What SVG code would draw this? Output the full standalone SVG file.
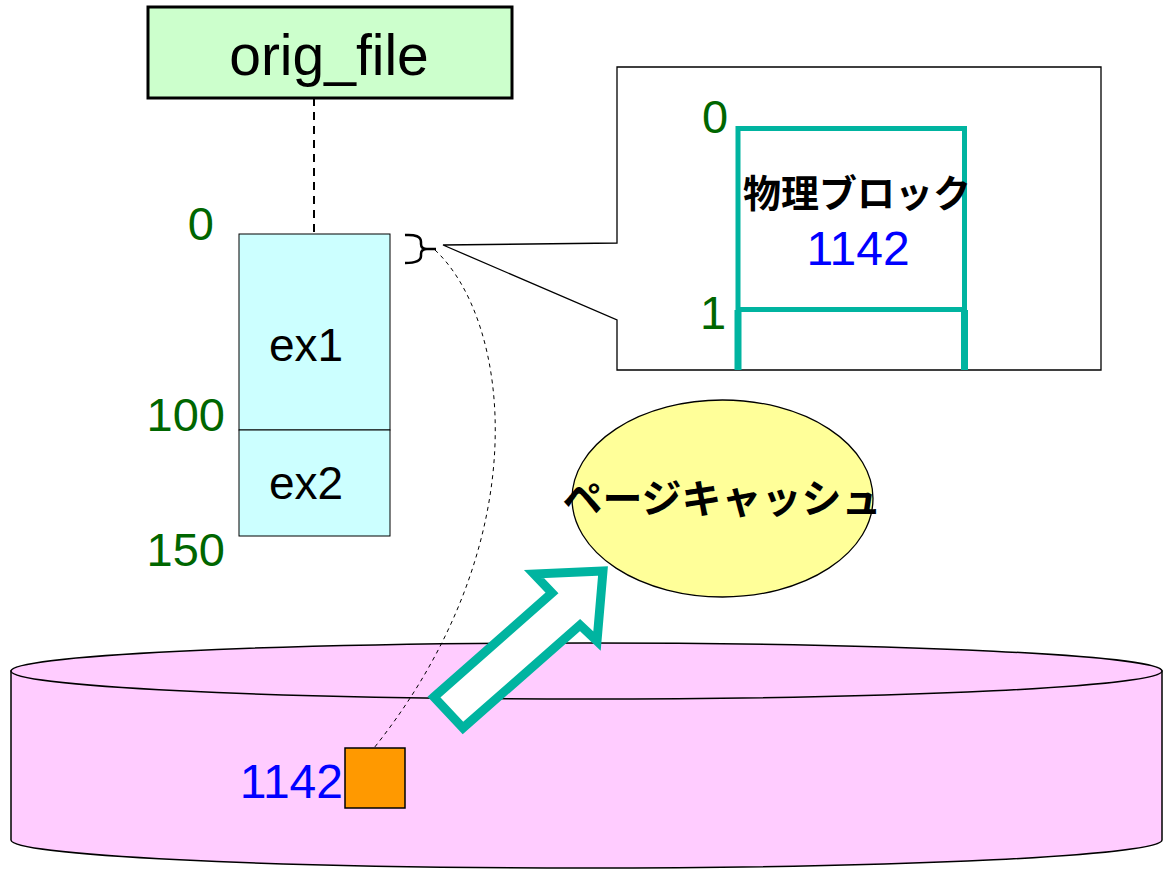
<svg xmlns="http://www.w3.org/2000/svg" width="1164" height="870" viewBox="0 0 1164 870">
  <style>
    .lat { font-family: "Liberation Sans", Arial, sans-serif; }
    .jp { font-family: "Noto Sans CJK JP", sans-serif; font-weight: bold; fill: #000; }
    .off { font-family: "Liberation Sans", Arial, sans-serif; font-size: 47px; fill: #006600; }
    .blk { font-family: "Liberation Sans", Arial, sans-serif; font-size: 48px; fill: #0000FF; }
    .edge { fill: none; stroke: #000; }
    .teal { fill: none; stroke: #00B4A0; }
  </style>

  <rect width="1164" height="870" fill="#FFFFFF"/>

  <!-- disk -->
  <g id="disk">
    <path d="M11,671 L11,840 A575.5,28 0 0 0 1162,840 L1162,671 Z" fill="#FFCCFF" stroke="#000" stroke-width="1.5"/>
    <ellipse cx="586.5" cy="671" rx="575.5" ry="28" fill="#FFCCFF" stroke="#000" stroke-width="1.5"/>
  </g>

  <!-- physical block 1142 on disk -->
  <g id="disk-block">
    <rect x="345" y="748" width="60" height="60" fill="#FF9900" stroke="#000" stroke-width="1.5"/>
    <text class="blk" x="343" y="798" text-anchor="end">1142</text>
  </g>

  <!-- file node -->
  <g id="orig-file">
    <rect x="148" y="7" width="364" height="91" fill="#CCFFCC" stroke="#000" stroke-width="3"/>
    <text class="lat" x="329" y="75" font-size="57" text-anchor="middle">orig_file</text>
  </g>

  <!-- extents -->
  <g id="ex1">
    <rect x="239" y="234" width="151" height="196" fill="#CCFFFF" stroke="#000" stroke-width="1"/>
    <text class="lat" x="306" y="361" font-size="46" text-anchor="middle">ex1</text>
  </g>
  <g id="ex2">
    <rect x="239" y="430" width="151" height="106" fill="#CCFFFF" stroke="#000" stroke-width="1"/>
    <text class="lat" x="306" y="499" font-size="46" text-anchor="middle">ex2</text>
  </g>
  <g id="offsets">
    <text class="off" x="214" y="240" text-anchor="end">0</text>
    <text class="off" x="225" y="431" text-anchor="end">100</text>
    <text class="off" x="225" y="566" text-anchor="end">150</text>
  </g>

  <!-- zoomed callout of the first block -->
  <g id="callout">
    <path d="M405,235 Q421,234 421,242 L421,244 Q421,249 427,249 L436,249 M427,249 Q421,249 421,254 L421,256 Q421,263 405,263" class="edge" stroke-width="2.5"/>
    <path d="M617,67 L1101,67 L1101,370 L617,370 L617,320 L443,245 L617,243 Z" fill="#FFFFFF" stroke="#000" stroke-width="1.3"/>
    <rect x="738" y="128.5" width="226.5" height="181" class="teal" stroke-width="5"/>
    <path d="M738,310 L738,370 M964.5,310 L964.5,370" class="teal" stroke-width="7"/>
    <text class="off" x="715" y="133" text-anchor="middle">0</text>
    <text class="off" x="713" y="329" text-anchor="middle">1</text>
    <text class="jp" x="857" y="207" font-size="38" text-anchor="middle">物理ブロック</text>
    <text class="blk" x="858" y="265" text-anchor="middle">1142</text>
  </g>

  <!-- page cache -->
  <g id="page-cache">
    <ellipse cx="722.5" cy="498.5" rx="150.5" ry="98.5" fill="#FFFF99" stroke="#000" stroke-width="1.3"/>
    <text class="jp" x="722" y="513" font-size="40" text-anchor="middle">ページキャッシュ</text>
  </g>

  <!-- connectors -->
  <g id="connectors">
    <line x1="314" y1="98" x2="314" y2="234" class="edge" stroke-width="2" stroke-dasharray="8,6"/>
    <path d="M435,250 C510,320 540,540 374,748" class="edge" stroke-width="1" stroke-dasharray="4,4"/>
    <path d="M434,697 L552,593 L534,574 L603,571 L597,641 L580,625 L463,728 Z" fill="#FFFFFF" stroke="#00B4A0" stroke-width="9" stroke-linejoin="miter"/>
  </g>
</svg>
